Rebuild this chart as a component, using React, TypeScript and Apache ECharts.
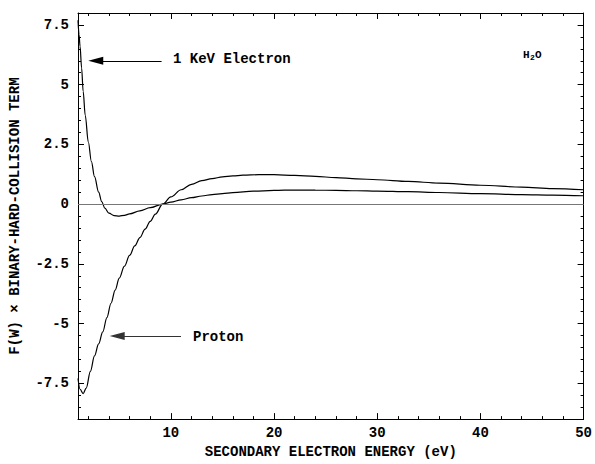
import React, { useEffect, useRef } from "react";
import * as echarts from "echarts";

// Secondary electron energy W (eV) and the curve values for a 1 keV electron
const electronW = [1.0, 1.1, 1.2, 1.35, 1.5, 1.7, 2.0, 2.3, 2.6, 3.0, 3.3, 3.6, 4.0, 4.5, 5.0, 5.5, 6.0, 7.0, 8.0, 9.2, 10, 11, 12, 13, 14, 15, 16, 18, 20, 22, 24, 26, 28, 30, 33, 36, 40, 44, 47, 50];
const electronF = [7.7, 7.1, 6.6, 5.7, 4.72, 3.72, 2.6, 1.78, 1.15, 0.5, 0.1, -0.17, -0.38, -0.48, -0.5, -0.47, -0.41, -0.28, -0.15, 0.0, 0.08, 0.18, 0.27, 0.34, 0.4, 0.44, 0.48, 0.54, 0.575, 0.59, 0.585, 0.575, 0.56, 0.545, 0.52, 0.485, 0.44, 0.4, 0.38, 0.35];

// Same quantity for a proton
const protonW = [1.0, 1.2, 1.5, 1.8, 2.2, 2.6, 3.0, 3.4, 3.8, 4.2, 4.6, 5.0, 5.5, 6.0, 6.5, 7.0, 7.5, 8.0, 8.5, 9.2, 10, 11, 12, 13, 14, 15, 16, 17, 18.5, 20, 22, 24, 26, 28, 30, 33, 36, 40, 44, 47, 50];
const protonF = [-7.3, -7.75, -7.93, -7.7, -7.0, -6.35, -5.85, -5.35, -4.75, -4.15, -3.6, -3.1, -2.6, -2.15, -1.75, -1.4, -1.05, -0.72, -0.42, 0.0, 0.3, 0.6, 0.83, 0.98, 1.07, 1.14, 1.18, 1.21, 1.23, 1.23, 1.2, 1.16, 1.11, 1.06, 1.02, 0.95, 0.88, 0.79, 0.71, 0.65, 0.6];

// Tick positions
const xMajorTicks = [10, 20, 30, 40, 50];
const xMinorTicks = [2, 4, 6, 8, 12, 14, 16, 18, 22, 24, 26, 28, 32, 34, 36, 38, 42, 44, 46, 48];
const yMajorTicks = [-7.5, -5, -2.5, 0, 2.5, 5, 7.5];
const yMinorTicks = [-9, -8.5, -8, -7, -6.5, -6, -5.5, -4.5, -4, -3.5, -3, -2, -1.5, -1, -0.5, 0.5, 1, 1.5, 2, 3, 3.5, 4, 4.5, 5.5, 6, 6.5, 7, 8];

const X_MIN = 1;
const X_MAX = 50;
const Y_MIN = -9;
const Y_MAX = 8;

const FONT = "'Courier New', 'Liberation Mono', monospace";
const INK = "#000";

const toPairs = (xs: number[], ys: number[]) => xs.map((x, i) => [x, ys[i]]);

function xAxisDef(position: "bottom" | "top", ticks: number[], len: number, withLabels: boolean, withLine: boolean) {
  return {
    type: "value",
    min: X_MIN,
    max: X_MAX,
    position,
    axisLine: { show: withLine, onZero: false, lineStyle: { color: INK, width: 1 } },
    axisTick: { show: true, inside: true, length: len, customValues: ticks, lineStyle: { color: INK, width: 1 } },
    axisLabel: withLabels
      ? { show: true, customValues: ticks, color: INK, fontFamily: FONT, fontSize: 14, fontWeight: "bold", margin: 7 }
      : { show: false },
    splitLine: { show: false },
  };
}

function yAxisDef(position: "left" | "right", ticks: number[], len: number, withLabels: boolean, withLine: boolean) {
  return {
    type: "value",
    min: Y_MIN,
    max: Y_MAX,
    position,
    axisLine: { show: withLine, onZero: false, lineStyle: { color: INK, width: 1 } },
    axisTick: { show: true, inside: true, length: len, customValues: ticks, lineStyle: { color: INK, width: 1 } },
    axisLabel: withLabels
      ? { show: true, customValues: ticks, color: INK, fontFamily: FONT, fontSize: 14, fontWeight: "bold", margin: 9 }
      : { show: false },
    splitLine: { show: false },
  };
}

const textStyle = (size: number) => ({ font: `bold ${size}px ${FONT}`, fill: INK });

export default function App() {
  const ref = useRef<HTMLDivElement>(null);

  useEffect(() => {
    if (!ref.current) return;
    const chart = echarts.init(ref.current, null, { renderer: "svg" });

    const bottomMajor: any = xAxisDef("bottom", xMajorTicks, 6, true, true);
    bottomMajor.name = "SECONDARY ELECTRON ENERGY (eV)";
    bottomMajor.nameLocation = "middle";
    bottomMajor.nameGap = 24;
    bottomMajor.nameTextStyle = { color: INK, fontFamily: FONT, fontSize: 14, fontWeight: "bold" };

    const leftMajor: any = yAxisDef("left", yMajorTicks, 6, true, true);
    leftMajor.name = "F(W) \u00d7 BINARY-HARD-COLLISION TERM";
    leftMajor.nameLocation = "middle";
    leftMajor.nameGap = 56;
    leftMajor.nameTextStyle = { color: INK, fontFamily: FONT, fontSize: 14, fontWeight: "bold" };

    const curveStyle = { color: INK, width: 1.2 };

    chart.setOption({
      animation: false,
      backgroundColor: "#fff",
      grid: { left: 78, right: 8, top: 13, bottom: 41, containLabel: false },
      xAxis: [
        bottomMajor,
        xAxisDef("bottom", xMinorTicks, 3, false, false),
        xAxisDef("top", xMajorTicks, 6, false, true),
        xAxisDef("top", xMinorTicks, 3, false, false),
      ],
      yAxis: [
        leftMajor,
        yAxisDef("left", yMinorTicks, 3, false, false),
        yAxisDef("right", yMajorTicks, 6, false, true),
        yAxisDef("right", yMinorTicks, 3, false, false),
      ],
      series: [
        {
          type: "line",
          name: "1 KeV Electron",
          xAxisIndex: 0,
          yAxisIndex: 0,
          data: toPairs(electronW, electronF),
          smooth: 0.35,
          smoothMonotone: "x",
          symbol: "none",
          showSymbol: false,
          lineStyle: curveStyle,
          z: 3,
          markLine: {
            silent: true,
            animation: false,
            symbol: ["none", "none"],
            label: { show: false },
            data: [
              { yAxis: 0, lineStyle: { color: "#777", width: 1, type: "solid" } },
              [
                { coord: [9.1, 6.0], symbol: "none", lineStyle: { color: INK, width: 1.2, type: "solid" } },
                { coord: [2.72, 6.0], symbol: "triangle", symbolSize: [8, 15] },
              ],
            ],
          },
        },
        {
          type: "line",
          name: "Proton",
          xAxisIndex: 0,
          yAxisIndex: 0,
          data: toPairs(protonW, protonF),
          smooth: 0.35,
          smoothMonotone: "x",
          symbol: "none",
          showSymbol: false,
          lineStyle: curveStyle,
          z: 3,
          markLine: {
            silent: true,
            animation: false,
            symbol: ["none", "none"],
            label: { show: false },
            data: [
              [
                { coord: [10.98, -5.52], symbol: "none", lineStyle: { color: "#333", width: 1.2, type: "solid" } },
                { coord: [4.8, -5.52], symbol: "triangle", symbolSize: [8, 15] },
              ],
            ],
          },
        },
      ],
      graphic: [
        { type: "text", left: 173, top: 52, style: { text: "1 KeV Electron", ...textStyle(14) } },
        { type: "text", left: 193, top: 330, style: { text: "Proton", ...textStyle(14) } },
        { type: "text", left: 523, top: 49, style: { text: "H", ...textStyle(11) } },
        { type: "text", left: 530, top: 53, style: { text: "2", ...textStyle(8) } },
        { type: "text", left: 535, top: 49, style: { text: "O", ...textStyle(11) } },
      ],
    });

    return () => chart.dispose();
  }, []);

  return (
    <div
      ref={ref}
      style={{ position: "fixed", left: 0, top: 0, width: 595, height: 464, background: "#fff" }}
    />
  );
}
